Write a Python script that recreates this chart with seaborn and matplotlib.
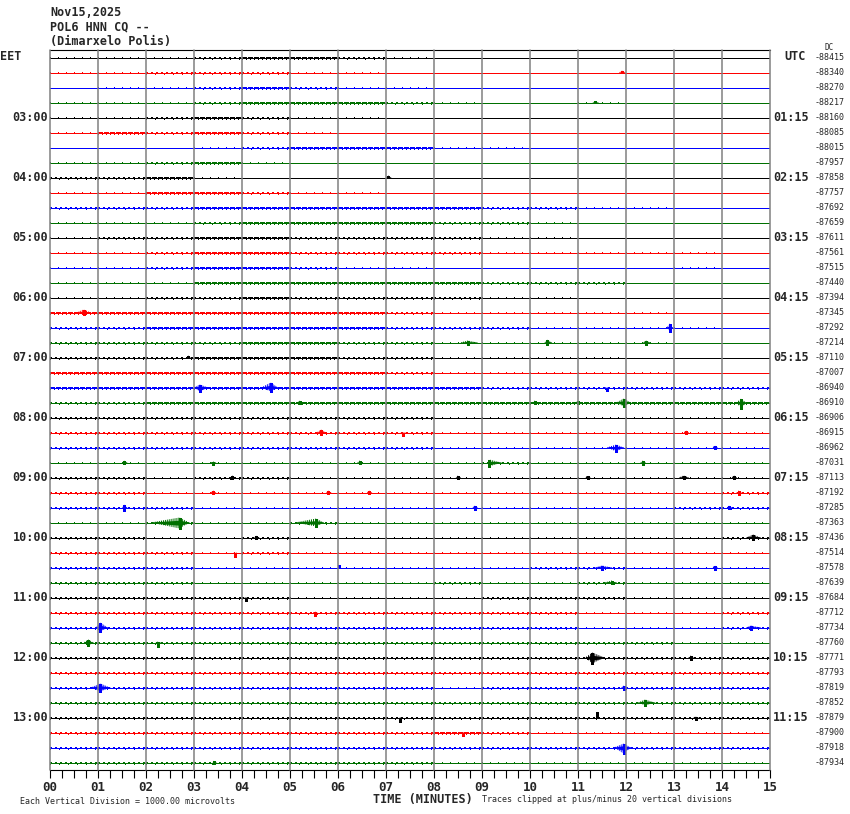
import numpy as np
import pandas as pd
import matplotlib
matplotlib.use("Agg")
import matplotlib.pyplot as plt
import seaborn as sns

# ---------------- data ----------------
title_lines = ["Nov15,2025", "POL6 HNN CQ --", "(Dimarxelo Polis)"]
trace_colors = ["#000000", "#ff0000", "#0000ff", "#007000"]
n_rows = 48
minutes = list(range(16))
minute_labels = [f"{m:02d}" for m in minutes]

left_label_rows = [4, 8, 12, 16, 20, 24, 28, 32, 36, 40, 44]
left_labels = ["03:00", "04:00", "05:00", "06:00", "07:00", "08:00",
               "09:00", "10:00", "11:00", "12:00", "13:00"]
right_labels = ["01:15", "02:15", "03:15", "04:15", "05:15", "06:15",
                "07:15", "08:15", "09:15", "10:15", "11:15"]

dc_values = [-88415, -88340, -88270, -88217, -88160, -88085, -88015, -87957,
             -87858, -87757, -87692, -87659, -87611, -87561, -87515, -87440,
             -87394, -87345, -87292, -87214, -87110, -87007, -86940, -86910,
             -86906, -86915, -86962, -87031, -87113, -87192, -87285, -87363,
             -87436, -87514, -87578, -87639, -87684, -87712, -87734, -87760,
             -87771, -87793, -87819, -87852, -87879, -87900, -87918, -87934]

# background noise density per minute (0 quiet .. 3 busy)
noise_density = [
    "111233210000000", "112221100000000", "011232110000000", "111233321001000",
    "112321100000000", "132321000000000", "000123331100000", "112310000000000",
    "223100000000000", "113321100000000", "222333333221100", "111233332210000",
    "122332222110000", "112332222111110", "112332110000010", "111333333222000",
    "112232222110000", "333333321111100", "223333322211110", "222233221111100",
    "222333221111000", "333333321111100", "333333333222222", "223333333333333",
    "222222221111111", "222222221111111", "222222221111111", "111111111211111",
    "221221111111111", "221111111111112", "222111111111122", "112112111111111",
    "221121111111112", "222121111111111", "222111111122111", "222111112112111",
    "222221111222111", "222222222221112", "222222222221112", "222222222222211",
    "222222222222222", "222222222222222", "222222221222222", "222222222222222",
    "222222222222222", "222222223211111", "222222222222222", "222222221111111",
]

# seismic events: row, start min, peak min, end min, amplitude up px, down px
ev_row  = [1, 3, 8, 17, 18, 19, 19, 19, 20, 22, 22, 22, 23, 23, 23, 23, 23,
           25, 25, 25, 26, 26, 27, 27, 27, 27, 27, 28, 28, 28, 28, 28, 29, 29,
           29, 29, 30, 30, 30, 31, 31, 32, 32, 33, 34, 34, 34, 35, 36, 37, 38,
           38, 39, 39, 40, 40, 42, 42, 43, 44, 44, 44, 45, 46, 47]
ev_t0   = [11.85, 11.30, 7.00, 0.55, 12.85, 8.55, 10.30, 12.35, 2.85, 3.00,
           4.40, 11.55, 5.15, 10.05, 10.95, 11.80, 14.30, 5.55, 7.30, 13.20,
           11.60, 13.80, 1.50, 3.35, 6.40, 9.10, 12.30, 3.75, 8.45, 11.15,
           13.10, 14.20, 3.35, 5.75, 6.60, 14.30, 1.50, 8.80, 14.10, 2.10,
           5.10, 4.25, 14.50, 3.82, 6.00, 11.35, 13.80, 11.55, 4.05, 5.48,
           0.95, 14.50, 0.70, 2.20, 11.15, 13.30, 0.85, 11.90, 12.25, 7.28,
           11.37, 13.40, 8.58, 11.75, 3.38]
ev_tp   = [11.92, 11.36, 7.05, 0.70, 12.91, 8.70, 10.36, 12.42, 2.88, 3.12,
           4.60, 11.60, 5.20, 10.10, 11.00, 11.95, 14.40, 5.65, 7.35, 13.25,
           11.80, 13.85, 1.55, 3.40, 6.45, 9.15, 12.35, 3.80, 8.50, 11.20,
           13.20, 14.25, 3.40, 5.80, 6.65, 14.35, 1.55, 8.85, 14.15, 2.70,
           5.55, 4.30, 14.65, 3.85, 6.02, 11.50, 13.85, 11.70, 4.08, 5.52,
           1.05, 14.60, 0.80, 2.25, 11.30, 13.35, 1.05, 11.95, 12.40, 7.30,
           11.40, 13.45, 8.60, 11.95, 3.42]
ev_t1   = [11.98, 11.42, 7.10, 0.85, 12.97, 8.90, 10.45, 12.50, 2.92, 3.30,
           4.75, 11.65, 5.25, 10.15, 11.05, 12.10, 14.50, 5.75, 7.40, 13.30,
           11.95, 13.90, 1.60, 3.45, 6.50, 9.40, 12.40, 3.85, 8.55, 11.25,
           13.30, 14.30, 3.45, 5.85, 6.70, 14.40, 1.60, 8.90, 14.20, 2.90,
           5.70, 4.35, 14.80, 3.88, 6.05, 11.70, 13.90, 11.80, 4.12, 5.56,
           1.20, 14.80, 0.90, 2.30, 11.55, 13.40, 1.25, 12.00, 12.60, 7.33,
           11.43, 13.50, 8.63, 12.10, 3.46]
ev_up   = [2, 1.5, 2, 3, 4, 2, 3, 2, 2, 3, 5, 0, 2, 2, 2, 4, 4, 3, 0, 2, 3, 2,
           2, 1, 2, 3, 2, 2, 2, 2, 2, 2, 2, 2, 2, 2, 3, 2, 2, 5, 4, 2, 3, 0, 3,
           2, 2, 2, 0, 1, 5, 2, 3, 1, 5, 2, 4, 2, 3, 0, 6, 1, 0, 4, 2]
ev_down = [0, 0, 0, 2, 4, 2, 2, 2, 0, 4, 4, 3, 1, 1, 1, 4, 6, 2, 3, 1, 4, 1,
           1, 2, 1, 4, 2, 1, 1, 1, 1, 1, 1, 1, 1, 2, 3, 2, 1, 6, 4, 1, 2, 4, 0,
           2, 2, 1, 3, 3, 4, 2, 3, 4, 6, 2, 4, 2, 3, 4, 0, 2, 3, 6, 1]

# ---------------- figure ----------------
W, H = 850, 814
sns.set_style("white")
plt.rcParams["lines.scale_dashes"] = False
plt.rcParams["lines.antialiased"] = False
plt.rcParams["hatch.linewidth"] = 0.75
mono = ["DejaVu Sans Mono"]

fig = plt.figure(figsize=(W / 100, H / 100), dpi=100)
ax_top, ax_bot = 50, 770
row0_px, row_step = 57.5, 15.0
ax = fig.add_axes([50 / W, (H - ax_bot) / H, 720 / W, (ax_bot - ax_top) / H])
px = 1.0 / row_step  # one pixel in row units
ONE_PX = 0.72       # one pixel in points

def fxy(x, y):
    return x / W, 1 - y / H

row_colors = [trace_colors[i % 4] for i in range(n_rows)]
row_names = [f"r{i:02d}" for i in range(n_rows)]

# baselines via seaborn
base = pd.DataFrame({
    "minute": np.tile([minutes[0], minutes[-1]], n_rows),
    "row": np.repeat(np.arange(n_rows), 2),
    "name": np.repeat(row_names, 2),
})
sns.lineplot(data=base, x="minute", y="row", hue="name", hue_order=row_names,
             palette=row_colors, estimator=None, legend=False, lw=ONE_PX, ax=ax)

# noise texture (pixels just above / below the trace)
dash_style = {1: (0.7, 5.5), 2: (1.4, 2.4), 3: (3.0, 0.8)}
for r, dens in enumerate(noise_density):
    for m, ch in enumerate(dens):
        d = int(ch)
        if d == 0:
            continue
        ax.plot([m, m + 1], [r - 1.0 * px, r - 1.0 * px], color=row_colors[r],
                lw=ONE_PX, dashes=dash_style[d], solid_capstyle="butt")
        if d >= 2:
            ax.plot([m, m + 1], [r + 1.0 * px, r + 1.0 * px], color=row_colors[r],
                    lw=ONE_PX, dashes=(0.7, 6.0 if d == 2 else 2.2))

# events: clusters of spikes
for r, t0, tp, t1, up, dn in zip(ev_row, ev_t0, ev_tp, ev_t1, ev_up, ev_down):
    c = row_colors[r]
    ax.fill_between([t0, tp, t1], [r - 0.5 * px, r - 0.45 * up * px, r - 0.5 * px],
                    [r + 0.5 * px, r + 0.45 * dn * px, r + 0.5 * px],
                    color=c, lw=0)
    ax.fill_between([t0, tp, t1], [r, r - up * px, r], [r, r + dn * px, r],
                    facecolor="none", edgecolor=c, hatch="||||||||", lw=0)
    ax.vlines(tp, r - up * px, r + dn * px, color=c, lw=ONE_PX * 1.4)

# vertical minute grid on top of traces
for m in minutes:
    ax.axvline(m, color="#808080", lw=1.1, zorder=5, clip_on=False,
               antialiased=True)

ax.set_xlim(0, 15)
ax.set_ylim((ax_bot - row0_px) / row_step, (ax_top - row0_px) / row_step)
ax.set_xlabel("")
ax.set_ylabel("")
ax.set_yticks([])
ax.set_xticks(minutes)
ax.set_xticklabels(minute_labels, fontfamily=mono, fontweight="bold", fontsize=9)
ax.set_xticks(np.arange(0, 15.01, 0.25), minor=True)
ax.tick_params(axis="x", which="both", direction="out", length=5.5, width=0.8,
               color="black", pad=2.5, bottom=True)
for s in ["left", "right"]:
    ax.spines[s].set_visible(False)
for s in ["top", "bottom"]:
    ax.spines[s].set_visible(True)
    ax.spines[s].set_color("black")
    ax.spines[s].set_linewidth(0.8)

# header
for i, t in enumerate(title_lines):
    fig.text(*fxy(50, 12.5 + 14.5 * i), t, fontfamily=mono, fontweight="bold",
             fontsize=8.5, ha="left", va="center")

fig.text(*fxy(0, 57), "EET", fontfamily=mono, fontweight="bold", fontsize=8.5,
         ha="left", va="center")
fig.text(*fxy(784, 57), "UTC", fontfamily=mono, fontweight="bold", fontsize=8.5,
         ha="left", va="center")
fig.text(*fxy(834, 48), "DC", fontfamily=mono, fontsize=5.5, ha="right", va="center")

for r, ll, rl in zip(left_label_rows, left_labels, right_labels):
    y = row0_px + row_step * r
    fig.text(*fxy(48, y), ll, fontfamily=mono, fontweight="bold", fontsize=8.5,
             ha="right", va="center")
    fig.text(*fxy(773, y), rl, fontfamily=mono, fontweight="bold", fontsize=8.5,
             ha="left", va="center")

for r, v in enumerate(dc_values):
    fig.text(*fxy(845, row0_px + row_step * r), f"{v}", fontfamily=mono,
             fontsize=6, ha="right", va="center")

# footer
fig.text(*fxy(20, 801), "Each Vertical Division = 1000.00 microvolts",
         fontfamily=mono, fontsize=6, ha="left", va="center")
fig.text(*fxy(373, 800), "TIME (MINUTES)", fontfamily=mono, fontweight="bold",
         fontsize=8.5, ha="left", va="center")
fig.text(*fxy(482, 800), "Traces clipped at plus/minus 20 vertical divisions",
         fontfamily=mono, fontsize=6, ha="left", va="center")

fig.savefig("out.png", dpi=100)
